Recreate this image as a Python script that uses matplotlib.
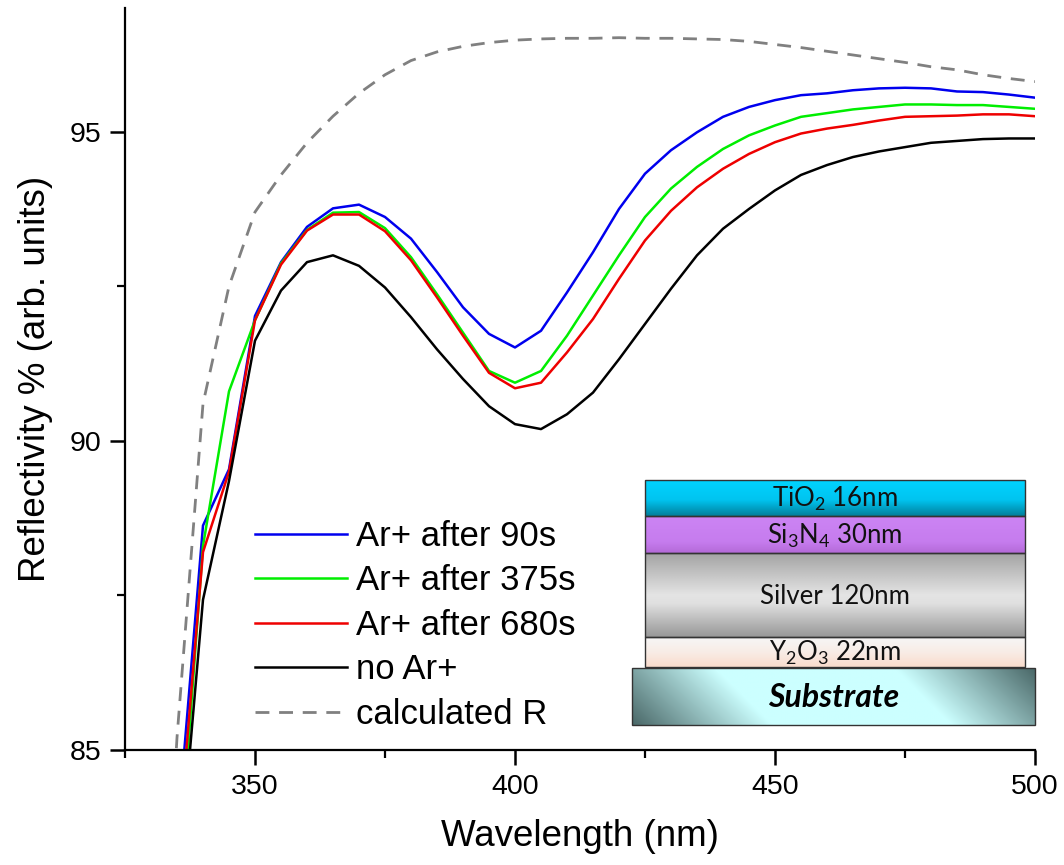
import numpy as np
import matplotlib
matplotlib.use("Agg")
import matplotlib.pyplot as plt
from matplotlib.patches import Rectangle
from matplotlib.colors import to_rgb

plt.rcParams["font.family"] = ["Liberation Sans", "DejaVu Sans"]
plt.rcParams["mathtext.fontset"] = "custom"
plt.rcParams["mathtext.rm"] = "Lato"
plt.rcParams["mathtext.it"] = "Lato:italic"

# wavelength grid (nm) and reflectivity (%)
wavelength = [335, 340, 345, 350, 355, 360, 365, 370, 375, 380, 385, 390,
              395, 400, 405, 410, 415, 420, 425, 430, 435, 440, 445, 450,
              455, 460, 465, 470, 475, 480, 485, 490, 495, 500]

r_90s = [83.58, 88.63, 89.54, 92.02, 92.89, 93.46, 93.76, 93.82, 93.62, 93.27,
         92.73, 92.16, 91.73, 91.51, 91.78, 92.40, 93.05, 93.75, 94.32, 94.70,
         94.99, 95.24, 95.40, 95.51, 95.59, 95.62, 95.67, 95.70, 95.71, 95.70,
         95.65, 95.64, 95.60, 95.55]

r_375s = [82.6, 88.3, 90.8, 91.95, 92.87, 93.41, 93.69, 93.70, 93.44, 92.97,
          92.37, 91.75, 91.13, 90.94, 91.13, 91.70, 92.35, 93.00, 93.62, 94.08,
          94.43, 94.72, 94.94, 95.10, 95.24, 95.30, 95.36, 95.40, 95.44, 95.44,
          95.43, 95.43, 95.40, 95.37]

r_680s = [83.2, 88.2, 89.5, 91.95, 92.85, 93.40, 93.66, 93.66, 93.39, 92.92,
          92.32, 91.70, 91.10, 90.85, 90.94, 91.43, 91.97, 92.62, 93.24, 93.72,
          94.10, 94.40, 94.64, 94.83, 94.97, 95.05, 95.11, 95.18, 95.24, 95.25,
          95.26, 95.28, 95.28, 95.25]

r_no_ar = [82.57, 87.43, 89.35, 91.62, 92.43, 92.89, 93.00, 92.83, 92.48, 92.00,
           91.48, 91.00, 90.56, 90.27, 90.19, 90.43, 90.78, 91.32, 91.89, 92.46,
           93.00, 93.43, 93.75, 94.05, 94.30, 94.46, 94.59, 94.68, 94.75, 94.82,
           94.85, 94.88, 94.89, 94.89]

calc_wavelength = [330, 335, 340, 345, 350, 355, 360, 365, 370, 375, 380, 385,
                   390, 395, 400, 405, 410, 415, 420, 425, 430, 435, 440, 445,
                   450, 455, 460, 465, 470, 475, 480, 485, 490, 495, 500]
r_calc = [78.0, 85.2, 90.6, 92.5, 93.70, 94.30, 94.82, 95.25, 95.62, 95.92,
          96.15, 96.29, 96.38, 96.44, 96.48, 96.50, 96.51, 96.51, 96.52, 96.51,
          96.51, 96.50, 96.49, 96.46, 96.41, 96.36, 96.30, 96.24, 96.18, 96.12,
          96.05, 96.00, 95.92, 95.86, 95.81]

series_labels = ["Ar+ after 90s", "Ar+ after 375s", "Ar+ after 680s", "no Ar+"]
series_colors = ["#0000ee", "#00ee00", "#ee0000", "#000000"]

layer_labels = [r"$\mathregular{TiO_2}$ 16nm", r"$\mathregular{Si_3N_4}$ 30nm",
                "Silver 120nm", r"$\mathregular{Y_2O_3}$ 22nm"]
substrate_label = "Substrate"

W, H = 1064, 865
fig = plt.figure(figsize=(W / 100, H / 100), dpi=100)
ax = fig.add_axes([125 / W, 1 - 750 / H, 910 / W, 742 / H])

for vals, lab, col in zip([r_90s, r_375s, r_680s, r_no_ar], series_labels, series_colors):
    ax.plot(wavelength, vals, color=col, lw=1.8, label=lab)
ax.plot(calc_wavelength, r_calc, color="#808080", lw=2.0, ls=(0, (5, 3.5)),
        label="calculated R")

ax.set_xlim(325, 500)
ax.set_ylim(85, 97)
ax.set_xticks([350, 400, 450, 500])
ax.set_xticks([325, 375, 425, 475], minor=True)
ax.set_yticks([85, 90, 95])
ax.set_yticks([87.5, 92.5], minor=True)

for s in ["top", "right"]:
    ax.spines[s].set_visible(False)
for s in ["left", "bottom"]:
    ax.spines[s].set_linewidth(1.6)

ax.tick_params(which="major", direction="out", length=11, width=1.8,
               labelsize=20.5, pad=6)
ax.tick_params(which="minor", direction="out", length=6, width=1.6)

ax.set_xlabel("Wavelength (nm)", fontsize=26.5, labelpad=14)
ax.set_ylabel("Reflectivity % (arb. units)", fontsize=26.5, labelpad=12)

ax.legend(loc="upper left", bbox_to_anchor=(0.143, 0.31), frameon=False,
          fontsize=25, handlelength=2.65, handletextpad=0.25,
          labelspacing=0.33, borderpad=0, borderaxespad=0)


# --- layer stack inset, drawn in pixel units ---
def vgrad(colors, stops, n=80):
    cols = np.array([to_rgb(c) for c in colors])
    t = np.linspace(0, 1, n)
    rgb = np.stack([np.interp(t, stops, cols[:, k]) for k in range(3)], axis=-1)
    return rgb[:, None, :]


ins = fig.add_axes([630 / W, 1 - 728 / H, 408 / W, 250 / H])
ins.set_xlim(630, 1038)
ins.set_ylim(728, 478)
ins.axis("off")

lx0, lx1 = 645, 1025
bands = [(480, 516), (516, 553), (553, 637), (637, 667)]
grads = [
    (["#00d4ff", "#00c4f0", "#007f9c"], [0, 0.55, 1]),
    (["#cc84f4", "#c67cee", "#b46ad8"], [0, 0.7, 1]),
    (["#a4a4a4", "#e4e4e4", "#e0e0e0", "#989898"], [0, 0.5, 0.6, 1]),
    (["#f6f6f6", "#f8ece6", "#fadccc"], [0, 0.5, 1]),
]
for (yt, yb), (cols, stops), lab in zip(bands, grads, layer_labels):
    ins.imshow(vgrad(cols, stops), extent=(lx0, lx1, yb, yt), aspect="auto",
               interpolation="bilinear", zorder=1)
    ins.add_patch(Rectangle((lx0, yt), lx1 - lx0, yb - yt, fill=False,
                            ec="#333333", lw=1.0, zorder=2))
    ins.text((lx0 + lx1) / 2, (yt + yb) / 2 + 1, lab, ha="center", va="center",
             fontsize=18.5, family="Lato", color="#111111", zorder=3)

sx0, sx1, sy0, sy1 = 632, 1035, 668, 725
xx, yy = np.meshgrid(np.linspace(0, sx1 - sx0, 400), np.linspace(0, sy1 - sy0, 60))
t = xx + (sy1 - sy0 - yy)
tmax = (sx1 - sx0) + (sy1 - sy0)
dark = np.array(to_rgb("#4a6868"))
light = np.array(to_rgb("#ccffff"))
w_left = np.clip(1 - t / 140, 0, 1)
w_right = np.clip((t - (tmax - 140)) / 140, 0, 1)
wdark = np.maximum(w_left, w_right)[..., None]
sub_img = light * (1 - wdark) + dark * wdark
ins.imshow(sub_img, extent=(sx0, sx1, sy1, sy0), aspect="auto",
           interpolation="bilinear", zorder=1)
ins.add_patch(Rectangle((sx0, sy0), sx1 - sx0, sy1 - sy0, fill=False,
                        ec="#333333", lw=1.0, zorder=2))
ins.text((sx0 + sx1) / 2, (sy0 + sy1) / 2 + 1, substrate_label, ha="center",
         va="center", fontsize=23, family="Lato", weight="bold", style="italic",
         color="#000000", zorder=3)

fig.savefig("out.png", dpi=100)
